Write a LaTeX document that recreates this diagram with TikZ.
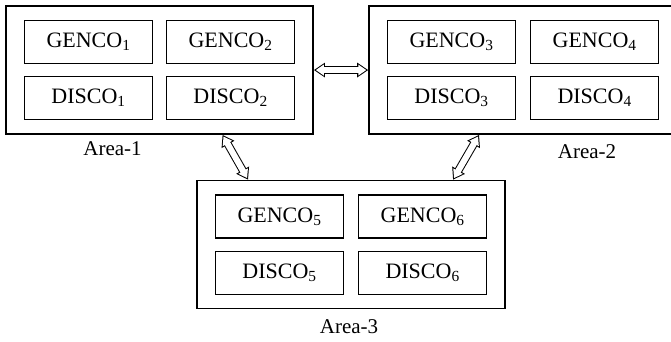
\documentclass[tikz,border=0pt]{standalone}
\usepackage{fontspec}
\setmainfont{Liberation Serif}
\usetikzlibrary{positioning, arrows.meta, fit}

\begin{document}
\begin{tikzpicture}[
  x=1pt, y=-1pt,
  unit/.style={
    rectangle, draw, line width=1.1pt,
    minimum width=128pt, minimum height=43pt, inner sep=0pt,
    font=\fontsize{22}{26}\selectfont
  },
  area/.style={
    rectangle, draw, line width=1.5pt,
    inner xsep=18pt, inner ysep=14pt
  },
  arealabel/.style={font=\fontsize{21}{25}\selectfont},
  tie/.style={
    line width=6pt, white, shorten >=1.9pt, shorten <=1.9pt,
    {Triangle[length=8pt, width=10.4pt]}-{Triangle[length=8pt, width=10.4pt]},
    preaction={draw=black, line width=8pt, shorten >=0pt, shorten <=0pt,
      {Triangle[length=11pt, width=14pt]}-{Triangle[length=11pt, width=14pt]}}
  },
]
\useasboundingbox (0,0) rectangle (671,342);

% Area-1
\node[unit] (g1) at (88.5,42) {GENCO\textsubscript{1}};
\node[unit, right=13pt of g1] (g2) {GENCO\textsubscript{2}};
\node[unit, below=12pt of g1] (d1) {DISCO\textsubscript{1}};
\node[unit, below=12pt of g2] (d2) {DISCO\textsubscript{2}};
\node[area, fit=(g1)(g2)(d1)(d2)] (a1) {};
\node[arealabel, below=3pt of a1.south, xshift=-47pt] (l1) {Area-1};

% Area-2
\node[unit] (g3) at (451.5,42) {GENCO\textsubscript{3}};
\node[unit, right=14pt of g3] (g4) {GENCO\textsubscript{4}};
\node[unit, below=12pt of g3] (d3) {DISCO\textsubscript{3}};
\node[unit, below=12pt of g4] (d4) {DISCO\textsubscript{4}};
\node[area, fit=(g3)(g4)(d3)(d4)] (a2) {};
\node[arealabel, below=6pt of a2.south, xshift=64pt] (l2) {Area-2};

% Area-3
\node[unit] (g5) at (279.5,216.5) {GENCO\textsubscript{5}};
\node[unit, right=14pt of g5] (g6) {GENCO\textsubscript{6}};
\node[unit, below=12pt of g5] (d5) {DISCO\textsubscript{5}};
\node[unit, below=12pt of g6] (d6) {DISCO\textsubscript{6}};
\node[area, fit=(g5)(g6)(d5)(d6)] (a3) {};
\node[arealabel, below=7pt of a3.south, xshift=-2pt] (l3) {Area-3};

% Tie-lines between areas
\draw[tie] (a1.east) -- (a2.west);
\draw[tie] ([xshift=63pt]a1.south) -- ([xshift=-103pt]a3.north);
\draw[tie] ([xshift=-44pt]a2.south) -- ([xshift=102pt]a3.north);

\end{tikzpicture}
\end{document}
